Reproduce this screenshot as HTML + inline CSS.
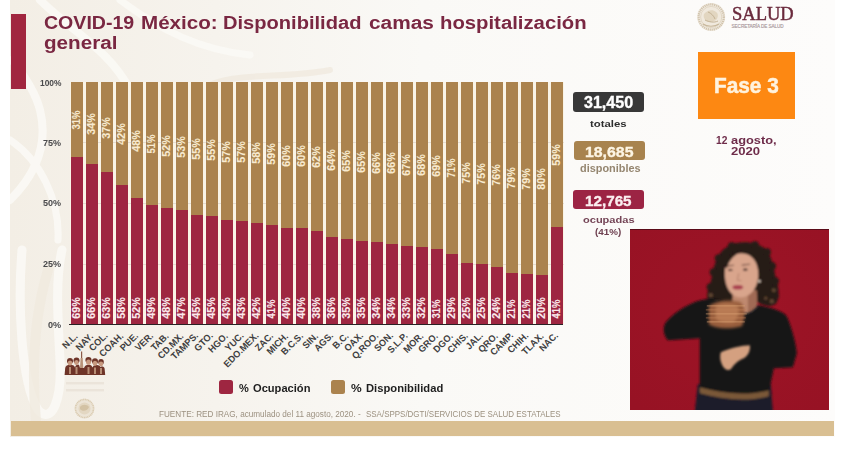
<!DOCTYPE html>
<html><head><meta charset="utf-8"><style>
html,body{margin:0;padding:0;}
body{width:842px;height:457px;position:relative;overflow:hidden;background:#ffffff;font-family:"Liberation Sans",sans-serif;}
</style></head><body>
<svg width="842" height="457" viewBox="0 0 842 457" style="position:absolute;left:0;top:0">
<defs>
<linearGradient id="bgg" x1="0" y1="0" x2="1" y2="0">
<stop offset="0" stop-color="#f3eee5"/>
<stop offset="0.25" stop-color="#f6f3ed"/>
<stop offset="0.5" stop-color="#faf9f6"/>
<stop offset="1" stop-color="#fdfcfb"/>
</linearGradient>
<clipPath id="slide"><rect x="10" y="0" width="825" height="421"/></clipPath>
</defs>
<rect x="0" y="0" width="842" height="457" fill="#ffffff"/>
<rect x="10" y="0" width="825" height="437" fill="url(#bgg)"/>
<g fill="none" stroke="#fbfaf6" stroke-linecap="round" opacity="0.9" clip-path="url(#slide)">
<path d="M22,250 C18,300 20,380 38,410 C52,425 62,400 60,360 C58,320 55,280 62,250" stroke-width="9"/>
<path d="M10,200 C30,180 50,150 40,110 C35,90 20,70 12,60" stroke-width="8"/>
<path d="M40,0 C70,30 110,50 130,90 C140,110 150,130 170,140" stroke-width="8"/>
<path d="M120,0 C160,30 200,50 250,55" stroke-width="7"/>
<path d="M10,140 C40,160 60,200 58,240" stroke-width="7"/>
</g>
<g fill="none" stroke="#f0eadf" stroke-linecap="round" opacity="0.8" clip-path="url(#slide)">
<path d="M40,457 C32,400 30,330 48,270" stroke-width="10"/>
<path d="M200,90 C230,70 280,80 330,70" stroke-width="6"/>
</g>
</svg>

<div style="position:absolute;left:11.3px;top:14.4px;width:14.8px;height:74.9px;background:#a1263f;"></div>
<div style="position:absolute;left:43.60px;top:13.52px;font-family:'Liberation Sans', sans-serif;font-size:18.75px;line-height:18.75px;font-weight:bold;color:#7a2742;white-space:nowrap;transform-origin:0 0;transform:scaleX(1.0431);">COVID-19</div>
<div style="position:absolute;left:141.00px;top:13.52px;font-family:'Liberation Sans', sans-serif;font-size:18.75px;line-height:18.75px;font-weight:bold;color:#7a2742;white-space:nowrap;transform-origin:0 0;transform:scaleX(1.0988);">México:</div>
<div style="position:absolute;left:223.40px;top:13.52px;font-family:'Liberation Sans', sans-serif;font-size:18.75px;line-height:18.75px;font-weight:bold;color:#7a2742;white-space:nowrap;transform-origin:0 0;transform:scaleX(1.0715);">Disponibilidad</div>
<div style="position:absolute;left:369.00px;top:13.52px;font-family:'Liberation Sans', sans-serif;font-size:18.75px;line-height:18.75px;font-weight:bold;color:#7a2742;white-space:nowrap;transform-origin:0 0;transform:scaleX(1.1115);">camas</div>
<div style="position:absolute;left:440.30px;top:13.52px;font-family:'Liberation Sans', sans-serif;font-size:18.75px;line-height:18.75px;font-weight:bold;color:#7a2742;white-space:nowrap;transform-origin:0 0;transform:scaleX(1.0825);">hospitalización</div>
<div style="position:absolute;left:43.70px;top:34.42px;font-family:'Liberation Sans', sans-serif;font-size:18.75px;line-height:18.75px;font-weight:bold;color:#7a2742;white-space:nowrap;transform-origin:0 0;transform:scaleX(1.1006);">general</div>
<div style="position:absolute;left:39.50px;top:78.79px;font-family:'Liberation Sans', sans-serif;font-size:8.87px;line-height:8.87px;font-weight:bold;color:#4a4a4c;white-space:nowrap;transform-origin:0 0;transform:scaleX(0.9480);">100%</div>
<div style="position:absolute;left:42.90px;top:138.99px;font-family:'Liberation Sans', sans-serif;font-size:8.87px;line-height:8.87px;font-weight:bold;color:#4a4a4c;white-space:nowrap;transform-origin:0 0;transform:scaleX(1.0202);">75%</div>
<div style="position:absolute;left:42.90px;top:199.49px;font-family:'Liberation Sans', sans-serif;font-size:8.87px;line-height:8.87px;font-weight:bold;color:#4a4a4c;white-space:nowrap;transform-origin:0 0;transform:scaleX(1.0202);">50%</div>
<div style="position:absolute;left:42.90px;top:259.99px;font-family:'Liberation Sans', sans-serif;font-size:8.87px;line-height:8.87px;font-weight:bold;color:#4a4a4c;white-space:nowrap;transform-origin:0 0;transform:scaleX(1.0202);">25%</div>
<div style="position:absolute;left:47.80px;top:320.99px;font-family:'Liberation Sans', sans-serif;font-size:8.87px;line-height:8.87px;font-weight:bold;color:#4a4a4c;white-space:nowrap;transform-origin:0 0;transform:scaleX(1.0303);">0%</div>
<div style="position:absolute;left:70.00px;top:81.8px;width:493.50px;height:242.40px;background:#faf4e6;"></div>
<div style="position:absolute;left:70.50px;top:142.40px;width:493px;height:0.8px;background:#e6ddd0;"></div>
<div style="position:absolute;left:70.50px;top:203.00px;width:493px;height:0.8px;background:#e6ddd0;"></div>
<div style="position:absolute;left:70.50px;top:263.60px;width:493px;height:0.8px;background:#e6ddd0;"></div>
<div style="position:absolute;left:70.50px;top:81.8px;width:12.4px;height:75.40px;background:#ab834e;"></div>
<div style="position:absolute;left:70.50px;top:157.20px;width:12.4px;height:167.00px;background:#9e2641;"></div>
<div style="position:absolute;left:67.06px;top:303.11px;width:20.07px;font-family:'Liberation Sans', sans-serif;font-size:10.03px;line-height:10.03px;font-weight:bold;color:#fbe9ec;white-space:nowrap;transform-origin:10.04px 5.04px;transform:rotate(-90deg) scaleX(1.0711);-webkit-text-stroke:0.12px #fbe9ec;">69%</div>
<div style="position:absolute;left:67.06px;top:115.26px;width:20.07px;font-family:'Liberation Sans', sans-serif;font-size:10.03px;line-height:10.03px;font-weight:bold;color:#f8ead0;white-space:nowrap;transform-origin:10.04px 5.04px;transform:rotate(-90deg) scaleX(0.9416);-webkit-text-stroke:0.12px #f8ead0;">31%</div>
<div style="position:absolute;left:85.50px;top:81.8px;width:12.4px;height:82.00px;background:#ab834e;"></div>
<div style="position:absolute;left:85.50px;top:163.80px;width:12.4px;height:160.40px;background:#9e2641;"></div>
<div style="position:absolute;left:82.07px;top:303.11px;width:20.07px;font-family:'Liberation Sans', sans-serif;font-size:10.03px;line-height:10.03px;font-weight:bold;color:#fbe9ec;white-space:nowrap;transform-origin:10.04px 5.04px;transform:rotate(-90deg) scaleX(1.0711);-webkit-text-stroke:0.12px #fbe9ec;">66%</div>
<div style="position:absolute;left:82.07px;top:118.56px;width:20.07px;font-family:'Liberation Sans', sans-serif;font-size:10.03px;line-height:10.03px;font-weight:bold;color:#f8ead0;white-space:nowrap;transform-origin:10.04px 5.04px;transform:rotate(-90deg) scaleX(1.0711);-webkit-text-stroke:0.12px #f8ead0;">34%</div>
<div style="position:absolute;left:100.51px;top:81.8px;width:12.4px;height:90.00px;background:#ab834e;"></div>
<div style="position:absolute;left:100.51px;top:171.80px;width:12.4px;height:152.40px;background:#9e2641;"></div>
<div style="position:absolute;left:97.07px;top:303.11px;width:20.07px;font-family:'Liberation Sans', sans-serif;font-size:10.03px;line-height:10.03px;font-weight:bold;color:#fbe9ec;white-space:nowrap;transform-origin:10.04px 5.04px;transform:rotate(-90deg) scaleX(1.0711);-webkit-text-stroke:0.12px #fbe9ec;">63%</div>
<div style="position:absolute;left:97.07px;top:122.56px;width:20.07px;font-family:'Liberation Sans', sans-serif;font-size:10.03px;line-height:10.03px;font-weight:bold;color:#f8ead0;white-space:nowrap;transform-origin:10.04px 5.04px;transform:rotate(-90deg) scaleX(1.0711);-webkit-text-stroke:0.12px #f8ead0;">37%</div>
<div style="position:absolute;left:115.51px;top:81.8px;width:12.4px;height:103.00px;background:#ab834e;"></div>
<div style="position:absolute;left:115.51px;top:184.80px;width:12.4px;height:139.40px;background:#9e2641;"></div>
<div style="position:absolute;left:112.07px;top:303.11px;width:20.07px;font-family:'Liberation Sans', sans-serif;font-size:10.03px;line-height:10.03px;font-weight:bold;color:#fbe9ec;white-space:nowrap;transform-origin:10.04px 5.04px;transform:rotate(-90deg) scaleX(1.0711);-webkit-text-stroke:0.12px #fbe9ec;">58%</div>
<div style="position:absolute;left:112.07px;top:129.06px;width:20.07px;font-family:'Liberation Sans', sans-serif;font-size:10.03px;line-height:10.03px;font-weight:bold;color:#f8ead0;white-space:nowrap;transform-origin:10.04px 5.04px;transform:rotate(-90deg) scaleX(1.0711);-webkit-text-stroke:0.12px #f8ead0;">42%</div>
<div style="position:absolute;left:130.51px;top:81.8px;width:12.4px;height:116.20px;background:#ab834e;"></div>
<div style="position:absolute;left:130.51px;top:198.00px;width:12.4px;height:126.20px;background:#9e2641;"></div>
<div style="position:absolute;left:127.08px;top:303.11px;width:20.07px;font-family:'Liberation Sans', sans-serif;font-size:10.03px;line-height:10.03px;font-weight:bold;color:#fbe9ec;white-space:nowrap;transform-origin:10.04px 5.04px;transform:rotate(-90deg) scaleX(1.0711);-webkit-text-stroke:0.12px #fbe9ec;">52%</div>
<div style="position:absolute;left:127.08px;top:135.66px;width:20.07px;font-family:'Liberation Sans', sans-serif;font-size:10.03px;line-height:10.03px;font-weight:bold;color:#f8ead0;white-space:nowrap;transform-origin:10.04px 5.04px;transform:rotate(-90deg) scaleX(1.0711);-webkit-text-stroke:0.12px #f8ead0;">48%</div>
<div style="position:absolute;left:145.51px;top:81.8px;width:12.4px;height:123.00px;background:#ab834e;"></div>
<div style="position:absolute;left:145.51px;top:204.80px;width:12.4px;height:119.40px;background:#9e2641;"></div>
<div style="position:absolute;left:142.08px;top:303.11px;width:20.07px;font-family:'Liberation Sans', sans-serif;font-size:10.03px;line-height:10.03px;font-weight:bold;color:#fbe9ec;white-space:nowrap;transform-origin:10.04px 5.04px;transform:rotate(-90deg) scaleX(1.0711);-webkit-text-stroke:0.12px #fbe9ec;">49%</div>
<div style="position:absolute;left:142.08px;top:139.06px;width:20.07px;font-family:'Liberation Sans', sans-serif;font-size:10.03px;line-height:10.03px;font-weight:bold;color:#f8ead0;white-space:nowrap;transform-origin:10.04px 5.04px;transform:rotate(-90deg) scaleX(0.9416);-webkit-text-stroke:0.12px #f8ead0;">51%</div>
<div style="position:absolute;left:160.52px;top:81.8px;width:12.4px;height:126.20px;background:#ab834e;"></div>
<div style="position:absolute;left:160.52px;top:208.00px;width:12.4px;height:116.20px;background:#9e2641;"></div>
<div style="position:absolute;left:157.08px;top:303.11px;width:20.07px;font-family:'Liberation Sans', sans-serif;font-size:10.03px;line-height:10.03px;font-weight:bold;color:#fbe9ec;white-space:nowrap;transform-origin:10.04px 5.04px;transform:rotate(-90deg) scaleX(1.0711);-webkit-text-stroke:0.12px #fbe9ec;">48%</div>
<div style="position:absolute;left:157.08px;top:140.66px;width:20.07px;font-family:'Liberation Sans', sans-serif;font-size:10.03px;line-height:10.03px;font-weight:bold;color:#f8ead0;white-space:nowrap;transform-origin:10.04px 5.04px;transform:rotate(-90deg) scaleX(1.0711);-webkit-text-stroke:0.12px #f8ead0;">52%</div>
<div style="position:absolute;left:175.52px;top:81.8px;width:12.4px;height:127.90px;background:#ab834e;"></div>
<div style="position:absolute;left:175.52px;top:209.70px;width:12.4px;height:114.50px;background:#9e2641;"></div>
<div style="position:absolute;left:172.08px;top:303.11px;width:20.07px;font-family:'Liberation Sans', sans-serif;font-size:10.03px;line-height:10.03px;font-weight:bold;color:#fbe9ec;white-space:nowrap;transform-origin:10.04px 5.04px;transform:rotate(-90deg) scaleX(1.0711);-webkit-text-stroke:0.12px #fbe9ec;">47%</div>
<div style="position:absolute;left:172.08px;top:141.51px;width:20.07px;font-family:'Liberation Sans', sans-serif;font-size:10.03px;line-height:10.03px;font-weight:bold;color:#f8ead0;white-space:nowrap;transform-origin:10.04px 5.04px;transform:rotate(-90deg) scaleX(1.0711);-webkit-text-stroke:0.12px #f8ead0;">53%</div>
<div style="position:absolute;left:190.52px;top:81.8px;width:12.4px;height:133.50px;background:#ab834e;"></div>
<div style="position:absolute;left:190.52px;top:215.30px;width:12.4px;height:108.90px;background:#9e2641;"></div>
<div style="position:absolute;left:187.09px;top:303.11px;width:20.07px;font-family:'Liberation Sans', sans-serif;font-size:10.03px;line-height:10.03px;font-weight:bold;color:#fbe9ec;white-space:nowrap;transform-origin:10.04px 5.04px;transform:rotate(-90deg) scaleX(1.0711);-webkit-text-stroke:0.12px #fbe9ec;">45%</div>
<div style="position:absolute;left:187.09px;top:144.31px;width:20.07px;font-family:'Liberation Sans', sans-serif;font-size:10.03px;line-height:10.03px;font-weight:bold;color:#f8ead0;white-space:nowrap;transform-origin:10.04px 5.04px;transform:rotate(-90deg) scaleX(1.0711);-webkit-text-stroke:0.12px #f8ead0;">55%</div>
<div style="position:absolute;left:205.53px;top:81.8px;width:12.4px;height:133.90px;background:#ab834e;"></div>
<div style="position:absolute;left:205.53px;top:215.70px;width:12.4px;height:108.50px;background:#9e2641;"></div>
<div style="position:absolute;left:202.09px;top:303.11px;width:20.07px;font-family:'Liberation Sans', sans-serif;font-size:10.03px;line-height:10.03px;font-weight:bold;color:#fbe9ec;white-space:nowrap;transform-origin:10.04px 5.04px;transform:rotate(-90deg) scaleX(1.0711);-webkit-text-stroke:0.12px #fbe9ec;">45%</div>
<div style="position:absolute;left:202.09px;top:144.51px;width:20.07px;font-family:'Liberation Sans', sans-serif;font-size:10.03px;line-height:10.03px;font-weight:bold;color:#f8ead0;white-space:nowrap;transform-origin:10.04px 5.04px;transform:rotate(-90deg) scaleX(1.0711);-webkit-text-stroke:0.12px #f8ead0;">55%</div>
<div style="position:absolute;left:220.53px;top:81.8px;width:12.4px;height:138.00px;background:#ab834e;"></div>
<div style="position:absolute;left:220.53px;top:219.80px;width:12.4px;height:104.40px;background:#9e2641;"></div>
<div style="position:absolute;left:217.09px;top:303.11px;width:20.07px;font-family:'Liberation Sans', sans-serif;font-size:10.03px;line-height:10.03px;font-weight:bold;color:#fbe9ec;white-space:nowrap;transform-origin:10.04px 5.04px;transform:rotate(-90deg) scaleX(1.0711);-webkit-text-stroke:0.12px #fbe9ec;">43%</div>
<div style="position:absolute;left:217.09px;top:146.56px;width:20.07px;font-family:'Liberation Sans', sans-serif;font-size:10.03px;line-height:10.03px;font-weight:bold;color:#f8ead0;white-space:nowrap;transform-origin:10.04px 5.04px;transform:rotate(-90deg) scaleX(1.0711);-webkit-text-stroke:0.12px #f8ead0;">57%</div>
<div style="position:absolute;left:235.53px;top:81.8px;width:12.4px;height:139.00px;background:#ab834e;"></div>
<div style="position:absolute;left:235.53px;top:220.80px;width:12.4px;height:103.40px;background:#9e2641;"></div>
<div style="position:absolute;left:232.10px;top:303.11px;width:20.07px;font-family:'Liberation Sans', sans-serif;font-size:10.03px;line-height:10.03px;font-weight:bold;color:#fbe9ec;white-space:nowrap;transform-origin:10.04px 5.04px;transform:rotate(-90deg) scaleX(1.0711);-webkit-text-stroke:0.12px #fbe9ec;">43%</div>
<div style="position:absolute;left:232.10px;top:147.06px;width:20.07px;font-family:'Liberation Sans', sans-serif;font-size:10.03px;line-height:10.03px;font-weight:bold;color:#f8ead0;white-space:nowrap;transform-origin:10.04px 5.04px;transform:rotate(-90deg) scaleX(1.0711);-webkit-text-stroke:0.12px #f8ead0;">57%</div>
<div style="position:absolute;left:250.54px;top:81.8px;width:12.4px;height:141.20px;background:#ab834e;"></div>
<div style="position:absolute;left:250.54px;top:223.00px;width:12.4px;height:101.20px;background:#9e2641;"></div>
<div style="position:absolute;left:247.10px;top:303.11px;width:20.07px;font-family:'Liberation Sans', sans-serif;font-size:10.03px;line-height:10.03px;font-weight:bold;color:#fbe9ec;white-space:nowrap;transform-origin:10.04px 5.04px;transform:rotate(-90deg) scaleX(1.0711);-webkit-text-stroke:0.12px #fbe9ec;">42%</div>
<div style="position:absolute;left:247.10px;top:148.16px;width:20.07px;font-family:'Liberation Sans', sans-serif;font-size:10.03px;line-height:10.03px;font-weight:bold;color:#f8ead0;white-space:nowrap;transform-origin:10.04px 5.04px;transform:rotate(-90deg) scaleX(1.0711);-webkit-text-stroke:0.12px #f8ead0;">58%</div>
<div style="position:absolute;left:265.54px;top:81.8px;width:12.4px;height:143.00px;background:#ab834e;"></div>
<div style="position:absolute;left:265.54px;top:224.80px;width:12.4px;height:99.40px;background:#9e2641;"></div>
<div style="position:absolute;left:262.10px;top:304.41px;width:20.07px;font-family:'Liberation Sans', sans-serif;font-size:10.03px;line-height:10.03px;font-weight:bold;color:#fbe9ec;white-space:nowrap;transform-origin:10.04px 5.04px;transform:rotate(-90deg) scaleX(0.9416);-webkit-text-stroke:0.12px #fbe9ec;">41%</div>
<div style="position:absolute;left:262.10px;top:149.06px;width:20.07px;font-family:'Liberation Sans', sans-serif;font-size:10.03px;line-height:10.03px;font-weight:bold;color:#f8ead0;white-space:nowrap;transform-origin:10.04px 5.04px;transform:rotate(-90deg) scaleX(1.0711);-webkit-text-stroke:0.12px #f8ead0;">59%</div>
<div style="position:absolute;left:280.54px;top:81.8px;width:12.4px;height:146.10px;background:#ab834e;"></div>
<div style="position:absolute;left:280.54px;top:227.90px;width:12.4px;height:96.30px;background:#9e2641;"></div>
<div style="position:absolute;left:277.11px;top:303.11px;width:20.07px;font-family:'Liberation Sans', sans-serif;font-size:10.03px;line-height:10.03px;font-weight:bold;color:#fbe9ec;white-space:nowrap;transform-origin:10.04px 5.04px;transform:rotate(-90deg) scaleX(1.0711);-webkit-text-stroke:0.12px #fbe9ec;">40%</div>
<div style="position:absolute;left:277.11px;top:150.61px;width:20.07px;font-family:'Liberation Sans', sans-serif;font-size:10.03px;line-height:10.03px;font-weight:bold;color:#f8ead0;white-space:nowrap;transform-origin:10.04px 5.04px;transform:rotate(-90deg) scaleX(1.0711);-webkit-text-stroke:0.12px #f8ead0;">60%</div>
<div style="position:absolute;left:295.55px;top:81.8px;width:12.4px;height:146.10px;background:#ab834e;"></div>
<div style="position:absolute;left:295.55px;top:227.90px;width:12.4px;height:96.30px;background:#9e2641;"></div>
<div style="position:absolute;left:292.11px;top:303.11px;width:20.07px;font-family:'Liberation Sans', sans-serif;font-size:10.03px;line-height:10.03px;font-weight:bold;color:#fbe9ec;white-space:nowrap;transform-origin:10.04px 5.04px;transform:rotate(-90deg) scaleX(1.0711);-webkit-text-stroke:0.12px #fbe9ec;">40%</div>
<div style="position:absolute;left:292.11px;top:150.61px;width:20.07px;font-family:'Liberation Sans', sans-serif;font-size:10.03px;line-height:10.03px;font-weight:bold;color:#f8ead0;white-space:nowrap;transform-origin:10.04px 5.04px;transform:rotate(-90deg) scaleX(1.0711);-webkit-text-stroke:0.12px #f8ead0;">60%</div>
<div style="position:absolute;left:310.55px;top:81.8px;width:12.4px;height:149.50px;background:#ab834e;"></div>
<div style="position:absolute;left:310.55px;top:231.30px;width:12.4px;height:92.90px;background:#9e2641;"></div>
<div style="position:absolute;left:307.11px;top:303.11px;width:20.07px;font-family:'Liberation Sans', sans-serif;font-size:10.03px;line-height:10.03px;font-weight:bold;color:#fbe9ec;white-space:nowrap;transform-origin:10.04px 5.04px;transform:rotate(-90deg) scaleX(1.0711);-webkit-text-stroke:0.12px #fbe9ec;">38%</div>
<div style="position:absolute;left:307.11px;top:152.31px;width:20.07px;font-family:'Liberation Sans', sans-serif;font-size:10.03px;line-height:10.03px;font-weight:bold;color:#f8ead0;white-space:nowrap;transform-origin:10.04px 5.04px;transform:rotate(-90deg) scaleX(1.0711);-webkit-text-stroke:0.12px #f8ead0;">62%</div>
<div style="position:absolute;left:325.55px;top:81.8px;width:12.4px;height:155.20px;background:#ab834e;"></div>
<div style="position:absolute;left:325.55px;top:237.00px;width:12.4px;height:87.20px;background:#9e2641;"></div>
<div style="position:absolute;left:322.11px;top:303.11px;width:20.07px;font-family:'Liberation Sans', sans-serif;font-size:10.03px;line-height:10.03px;font-weight:bold;color:#fbe9ec;white-space:nowrap;transform-origin:10.04px 5.04px;transform:rotate(-90deg) scaleX(1.0711);-webkit-text-stroke:0.12px #fbe9ec;">36%</div>
<div style="position:absolute;left:322.11px;top:155.16px;width:20.07px;font-family:'Liberation Sans', sans-serif;font-size:10.03px;line-height:10.03px;font-weight:bold;color:#f8ead0;white-space:nowrap;transform-origin:10.04px 5.04px;transform:rotate(-90deg) scaleX(1.0711);-webkit-text-stroke:0.12px #f8ead0;">64%</div>
<div style="position:absolute;left:340.55px;top:81.8px;width:12.4px;height:157.30px;background:#ab834e;"></div>
<div style="position:absolute;left:340.55px;top:239.10px;width:12.4px;height:85.10px;background:#9e2641;"></div>
<div style="position:absolute;left:337.12px;top:303.11px;width:20.07px;font-family:'Liberation Sans', sans-serif;font-size:10.03px;line-height:10.03px;font-weight:bold;color:#fbe9ec;white-space:nowrap;transform-origin:10.04px 5.04px;transform:rotate(-90deg) scaleX(1.0711);-webkit-text-stroke:0.12px #fbe9ec;">35%</div>
<div style="position:absolute;left:337.12px;top:156.21px;width:20.07px;font-family:'Liberation Sans', sans-serif;font-size:10.03px;line-height:10.03px;font-weight:bold;color:#f8ead0;white-space:nowrap;transform-origin:10.04px 5.04px;transform:rotate(-90deg) scaleX(1.0711);-webkit-text-stroke:0.12px #f8ead0;">65%</div>
<div style="position:absolute;left:355.56px;top:81.8px;width:12.4px;height:158.90px;background:#ab834e;"></div>
<div style="position:absolute;left:355.56px;top:240.70px;width:12.4px;height:83.50px;background:#9e2641;"></div>
<div style="position:absolute;left:352.12px;top:303.11px;width:20.07px;font-family:'Liberation Sans', sans-serif;font-size:10.03px;line-height:10.03px;font-weight:bold;color:#fbe9ec;white-space:nowrap;transform-origin:10.04px 5.04px;transform:rotate(-90deg) scaleX(1.0711);-webkit-text-stroke:0.12px #fbe9ec;">35%</div>
<div style="position:absolute;left:352.12px;top:157.01px;width:20.07px;font-family:'Liberation Sans', sans-serif;font-size:10.03px;line-height:10.03px;font-weight:bold;color:#f8ead0;white-space:nowrap;transform-origin:10.04px 5.04px;transform:rotate(-90deg) scaleX(1.0711);-webkit-text-stroke:0.12px #f8ead0;">65%</div>
<div style="position:absolute;left:370.56px;top:81.8px;width:12.4px;height:160.40px;background:#ab834e;"></div>
<div style="position:absolute;left:370.56px;top:242.20px;width:12.4px;height:82.00px;background:#9e2641;"></div>
<div style="position:absolute;left:367.12px;top:303.11px;width:20.07px;font-family:'Liberation Sans', sans-serif;font-size:10.03px;line-height:10.03px;font-weight:bold;color:#fbe9ec;white-space:nowrap;transform-origin:10.04px 5.04px;transform:rotate(-90deg) scaleX(1.0711);-webkit-text-stroke:0.12px #fbe9ec;">34%</div>
<div style="position:absolute;left:367.12px;top:157.76px;width:20.07px;font-family:'Liberation Sans', sans-serif;font-size:10.03px;line-height:10.03px;font-weight:bold;color:#f8ead0;white-space:nowrap;transform-origin:10.04px 5.04px;transform:rotate(-90deg) scaleX(1.0711);-webkit-text-stroke:0.12px #f8ead0;">66%</div>
<div style="position:absolute;left:385.56px;top:81.8px;width:12.4px;height:161.80px;background:#ab834e;"></div>
<div style="position:absolute;left:385.56px;top:243.60px;width:12.4px;height:80.60px;background:#9e2641;"></div>
<div style="position:absolute;left:382.13px;top:303.11px;width:20.07px;font-family:'Liberation Sans', sans-serif;font-size:10.03px;line-height:10.03px;font-weight:bold;color:#fbe9ec;white-space:nowrap;transform-origin:10.04px 5.04px;transform:rotate(-90deg) scaleX(1.0711);-webkit-text-stroke:0.12px #fbe9ec;">34%</div>
<div style="position:absolute;left:382.13px;top:158.46px;width:20.07px;font-family:'Liberation Sans', sans-serif;font-size:10.03px;line-height:10.03px;font-weight:bold;color:#f8ead0;white-space:nowrap;transform-origin:10.04px 5.04px;transform:rotate(-90deg) scaleX(1.0711);-webkit-text-stroke:0.12px #f8ead0;">66%</div>
<div style="position:absolute;left:400.57px;top:81.8px;width:12.4px;height:164.00px;background:#ab834e;"></div>
<div style="position:absolute;left:400.57px;top:245.80px;width:12.4px;height:78.40px;background:#9e2641;"></div>
<div style="position:absolute;left:397.13px;top:303.11px;width:20.07px;font-family:'Liberation Sans', sans-serif;font-size:10.03px;line-height:10.03px;font-weight:bold;color:#fbe9ec;white-space:nowrap;transform-origin:10.04px 5.04px;transform:rotate(-90deg) scaleX(1.0711);-webkit-text-stroke:0.12px #fbe9ec;">33%</div>
<div style="position:absolute;left:397.13px;top:159.56px;width:20.07px;font-family:'Liberation Sans', sans-serif;font-size:10.03px;line-height:10.03px;font-weight:bold;color:#f8ead0;white-space:nowrap;transform-origin:10.04px 5.04px;transform:rotate(-90deg) scaleX(1.0711);-webkit-text-stroke:0.12px #f8ead0;">67%</div>
<div style="position:absolute;left:415.57px;top:81.8px;width:12.4px;height:164.80px;background:#ab834e;"></div>
<div style="position:absolute;left:415.57px;top:246.60px;width:12.4px;height:77.60px;background:#9e2641;"></div>
<div style="position:absolute;left:412.13px;top:303.11px;width:20.07px;font-family:'Liberation Sans', sans-serif;font-size:10.03px;line-height:10.03px;font-weight:bold;color:#fbe9ec;white-space:nowrap;transform-origin:10.04px 5.04px;transform:rotate(-90deg) scaleX(1.0711);-webkit-text-stroke:0.12px #fbe9ec;">32%</div>
<div style="position:absolute;left:412.13px;top:159.96px;width:20.07px;font-family:'Liberation Sans', sans-serif;font-size:10.03px;line-height:10.03px;font-weight:bold;color:#f8ead0;white-space:nowrap;transform-origin:10.04px 5.04px;transform:rotate(-90deg) scaleX(1.0711);-webkit-text-stroke:0.12px #f8ead0;">68%</div>
<div style="position:absolute;left:430.57px;top:81.8px;width:12.4px;height:167.00px;background:#ab834e;"></div>
<div style="position:absolute;left:430.57px;top:248.80px;width:12.4px;height:75.40px;background:#9e2641;"></div>
<div style="position:absolute;left:427.14px;top:304.41px;width:20.07px;font-family:'Liberation Sans', sans-serif;font-size:10.03px;line-height:10.03px;font-weight:bold;color:#fbe9ec;white-space:nowrap;transform-origin:10.04px 5.04px;transform:rotate(-90deg) scaleX(0.9416);-webkit-text-stroke:0.12px #fbe9ec;">31%</div>
<div style="position:absolute;left:427.14px;top:161.06px;width:20.07px;font-family:'Liberation Sans', sans-serif;font-size:10.03px;line-height:10.03px;font-weight:bold;color:#f8ead0;white-space:nowrap;transform-origin:10.04px 5.04px;transform:rotate(-90deg) scaleX(1.0711);-webkit-text-stroke:0.12px #f8ead0;">69%</div>
<div style="position:absolute;left:445.57px;top:81.8px;width:12.4px;height:171.80px;background:#ab834e;"></div>
<div style="position:absolute;left:445.57px;top:253.60px;width:12.4px;height:70.60px;background:#9e2641;"></div>
<div style="position:absolute;left:442.14px;top:303.11px;width:20.07px;font-family:'Liberation Sans', sans-serif;font-size:10.03px;line-height:10.03px;font-weight:bold;color:#fbe9ec;white-space:nowrap;transform-origin:10.04px 5.04px;transform:rotate(-90deg) scaleX(1.0711);-webkit-text-stroke:0.12px #fbe9ec;">29%</div>
<div style="position:absolute;left:442.14px;top:163.46px;width:20.07px;font-family:'Liberation Sans', sans-serif;font-size:10.03px;line-height:10.03px;font-weight:bold;color:#f8ead0;white-space:nowrap;transform-origin:10.04px 5.04px;transform:rotate(-90deg) scaleX(0.9416);-webkit-text-stroke:0.12px #f8ead0;">71%</div>
<div style="position:absolute;left:460.58px;top:81.8px;width:12.4px;height:181.60px;background:#ab834e;"></div>
<div style="position:absolute;left:460.58px;top:263.40px;width:12.4px;height:60.80px;background:#9e2641;"></div>
<div style="position:absolute;left:457.14px;top:303.11px;width:20.07px;font-family:'Liberation Sans', sans-serif;font-size:10.03px;line-height:10.03px;font-weight:bold;color:#fbe9ec;white-space:nowrap;transform-origin:10.04px 5.04px;transform:rotate(-90deg) scaleX(1.0711);-webkit-text-stroke:0.12px #fbe9ec;">25%</div>
<div style="position:absolute;left:457.14px;top:168.36px;width:20.07px;font-family:'Liberation Sans', sans-serif;font-size:10.03px;line-height:10.03px;font-weight:bold;color:#f8ead0;white-space:nowrap;transform-origin:10.04px 5.04px;transform:rotate(-90deg) scaleX(1.0711);-webkit-text-stroke:0.12px #f8ead0;">75%</div>
<div style="position:absolute;left:475.58px;top:81.8px;width:12.4px;height:182.30px;background:#ab834e;"></div>
<div style="position:absolute;left:475.58px;top:264.10px;width:12.4px;height:60.10px;background:#9e2641;"></div>
<div style="position:absolute;left:472.14px;top:303.11px;width:20.07px;font-family:'Liberation Sans', sans-serif;font-size:10.03px;line-height:10.03px;font-weight:bold;color:#fbe9ec;white-space:nowrap;transform-origin:10.04px 5.04px;transform:rotate(-90deg) scaleX(1.0711);-webkit-text-stroke:0.12px #fbe9ec;">25%</div>
<div style="position:absolute;left:472.14px;top:168.71px;width:20.07px;font-family:'Liberation Sans', sans-serif;font-size:10.03px;line-height:10.03px;font-weight:bold;color:#f8ead0;white-space:nowrap;transform-origin:10.04px 5.04px;transform:rotate(-90deg) scaleX(1.0711);-webkit-text-stroke:0.12px #f8ead0;">75%</div>
<div style="position:absolute;left:490.58px;top:81.8px;width:12.4px;height:185.20px;background:#ab834e;"></div>
<div style="position:absolute;left:490.58px;top:267.00px;width:12.4px;height:57.20px;background:#9e2641;"></div>
<div style="position:absolute;left:487.15px;top:303.11px;width:20.07px;font-family:'Liberation Sans', sans-serif;font-size:10.03px;line-height:10.03px;font-weight:bold;color:#fbe9ec;white-space:nowrap;transform-origin:10.04px 5.04px;transform:rotate(-90deg) scaleX(1.0711);-webkit-text-stroke:0.12px #fbe9ec;">24%</div>
<div style="position:absolute;left:487.15px;top:170.16px;width:20.07px;font-family:'Liberation Sans', sans-serif;font-size:10.03px;line-height:10.03px;font-weight:bold;color:#f8ead0;white-space:nowrap;transform-origin:10.04px 5.04px;transform:rotate(-90deg) scaleX(1.0711);-webkit-text-stroke:0.12px #f8ead0;">76%</div>
<div style="position:absolute;left:505.59px;top:81.8px;width:12.4px;height:191.00px;background:#ab834e;"></div>
<div style="position:absolute;left:505.59px;top:272.80px;width:12.4px;height:51.40px;background:#9e2641;"></div>
<div style="position:absolute;left:502.15px;top:304.41px;width:20.07px;font-family:'Liberation Sans', sans-serif;font-size:10.03px;line-height:10.03px;font-weight:bold;color:#fbe9ec;white-space:nowrap;transform-origin:10.04px 5.04px;transform:rotate(-90deg) scaleX(0.9416);-webkit-text-stroke:0.12px #fbe9ec;">21%</div>
<div style="position:absolute;left:502.15px;top:173.06px;width:20.07px;font-family:'Liberation Sans', sans-serif;font-size:10.03px;line-height:10.03px;font-weight:bold;color:#f8ead0;white-space:nowrap;transform-origin:10.04px 5.04px;transform:rotate(-90deg) scaleX(1.0711);-webkit-text-stroke:0.12px #f8ead0;">79%</div>
<div style="position:absolute;left:520.59px;top:81.8px;width:12.4px;height:192.60px;background:#ab834e;"></div>
<div style="position:absolute;left:520.59px;top:274.40px;width:12.4px;height:49.80px;background:#9e2641;"></div>
<div style="position:absolute;left:517.15px;top:304.41px;width:20.07px;font-family:'Liberation Sans', sans-serif;font-size:10.03px;line-height:10.03px;font-weight:bold;color:#fbe9ec;white-space:nowrap;transform-origin:10.04px 5.04px;transform:rotate(-90deg) scaleX(0.9416);-webkit-text-stroke:0.12px #fbe9ec;">21%</div>
<div style="position:absolute;left:517.15px;top:173.86px;width:20.07px;font-family:'Liberation Sans', sans-serif;font-size:10.03px;line-height:10.03px;font-weight:bold;color:#f8ead0;white-space:nowrap;transform-origin:10.04px 5.04px;transform:rotate(-90deg) scaleX(1.0711);-webkit-text-stroke:0.12px #f8ead0;">79%</div>
<div style="position:absolute;left:535.59px;top:81.8px;width:12.4px;height:193.40px;background:#ab834e;"></div>
<div style="position:absolute;left:535.59px;top:275.20px;width:12.4px;height:49.00px;background:#9e2641;"></div>
<div style="position:absolute;left:532.16px;top:303.11px;width:20.07px;font-family:'Liberation Sans', sans-serif;font-size:10.03px;line-height:10.03px;font-weight:bold;color:#fbe9ec;white-space:nowrap;transform-origin:10.04px 5.04px;transform:rotate(-90deg) scaleX(1.0711);-webkit-text-stroke:0.12px #fbe9ec;">20%</div>
<div style="position:absolute;left:532.16px;top:174.26px;width:20.07px;font-family:'Liberation Sans', sans-serif;font-size:10.03px;line-height:10.03px;font-weight:bold;color:#f8ead0;white-space:nowrap;transform-origin:10.04px 5.04px;transform:rotate(-90deg) scaleX(1.0711);-webkit-text-stroke:0.12px #f8ead0;">80%</div>
<div style="position:absolute;left:550.60px;top:81.8px;width:12.4px;height:144.80px;background:#ab834e;"></div>
<div style="position:absolute;left:550.60px;top:226.60px;width:12.4px;height:97.60px;background:#9e2641;"></div>
<div style="position:absolute;left:547.16px;top:304.41px;width:20.07px;font-family:'Liberation Sans', sans-serif;font-size:10.03px;line-height:10.03px;font-weight:bold;color:#fbe9ec;white-space:nowrap;transform-origin:10.04px 5.04px;transform:rotate(-90deg) scaleX(0.9416);-webkit-text-stroke:0.12px #fbe9ec;">41%</div>
<div style="position:absolute;left:547.16px;top:149.96px;width:20.07px;font-family:'Liberation Sans', sans-serif;font-size:10.03px;line-height:10.03px;font-weight:bold;color:#f8ead0;white-space:nowrap;transform-origin:10.04px 5.04px;transform:rotate(-90deg) scaleX(1.0711);-webkit-text-stroke:0.12px #f8ead0;">59%</div>
<div style="position:absolute;left:69px;top:323.8px;width:494px;height:1.1px;background:#2a2224;"></div>
<div style="position:absolute;left:61.46px;top:335.57px;width:17.84px;font-family:'Liberation Sans', sans-serif;font-size:9.45px;line-height:9.45px;font-weight:bold;color:#3e3e40;white-space:nowrap;transform-origin:8.92px 4.75px;transform:rotate(-45deg) scaleX(0.9700);">N.L.</div>
<div style="position:absolute;left:74.09px;top:336.53px;width:20.66px;font-family:'Liberation Sans', sans-serif;font-size:9.45px;line-height:9.45px;font-weight:bold;color:#3e3e40;white-space:nowrap;transform-origin:10.33px 4.75px;transform:rotate(-45deg) scaleX(0.9700);">NAY.</div>
<div style="position:absolute;left:87.48px;top:337.19px;width:22.57px;font-family:'Liberation Sans', sans-serif;font-size:9.45px;line-height:9.45px;font-weight:bold;color:#3e3e40;white-space:nowrap;transform-origin:11.28px 4.75px;transform:rotate(-45deg) scaleX(0.9700);">COL.</div>
<div style="position:absolute;left:95.85px;top:339.89px;width:30.44px;font-family:'Liberation Sans', sans-serif;font-size:9.45px;line-height:9.45px;font-weight:bold;color:#3e3e40;white-space:nowrap;transform-origin:15.22px 4.75px;transform:rotate(-45deg) scaleX(0.9700);">COAH.</div>
<div style="position:absolute;left:117.92px;top:337.01px;width:22.05px;font-family:'Liberation Sans', sans-serif;font-size:9.45px;line-height:9.45px;font-weight:bold;color:#3e3e40;white-space:nowrap;transform-origin:11.03px 4.75px;transform:rotate(-45deg) scaleX(0.9700);">PUE.</div>
<div style="position:absolute;left:132.93px;top:337.01px;width:22.05px;font-family:'Liberation Sans', sans-serif;font-size:9.45px;line-height:9.45px;font-weight:bold;color:#3e3e40;white-space:nowrap;transform-origin:11.03px 4.75px;transform:rotate(-45deg) scaleX(0.9700);">VER.</div>
<div style="position:absolute;left:148.53px;top:336.77px;width:21.34px;font-family:'Liberation Sans', sans-serif;font-size:9.45px;line-height:9.45px;font-weight:bold;color:#3e3e40;white-space:nowrap;transform-origin:10.67px 4.75px;transform:rotate(-45deg) scaleX(0.9700);">TAB.</div>
<div style="position:absolute;left:153.65px;top:340.79px;width:33.07px;font-family:'Liberation Sans', sans-serif;font-size:9.45px;line-height:9.45px;font-weight:bold;color:#3e3e40;white-space:nowrap;transform-origin:16.53px 4.75px;transform:rotate(-45deg) scaleX(0.9700);">CD.MX.</div>
<div style="position:absolute;left:167.03px;top:341.45px;width:34.99px;font-family:'Liberation Sans', sans-serif;font-size:9.45px;line-height:9.45px;font-weight:bold;color:#3e3e40;white-space:nowrap;transform-origin:17.50px 4.75px;transform:rotate(-45deg) scaleX(0.9700);">TAMPS.</div>
<div style="position:absolute;left:192.20px;top:337.31px;width:22.92px;font-family:'Liberation Sans', sans-serif;font-size:9.45px;line-height:9.45px;font-weight:bold;color:#3e3e40;white-space:nowrap;transform-origin:11.46px 4.75px;transform:rotate(-45deg) scaleX(0.9700);">GTO.</div>
<div style="position:absolute;left:206.18px;top:337.73px;width:24.15px;font-family:'Liberation Sans', sans-serif;font-size:9.45px;line-height:9.45px;font-weight:bold;color:#3e3e40;white-space:nowrap;transform-origin:12.07px 4.75px;transform:rotate(-45deg) scaleX(0.9700);">HGO.</div>
<div style="position:absolute;left:222.51px;top:337.19px;width:22.57px;font-family:'Liberation Sans', sans-serif;font-size:9.45px;line-height:9.45px;font-weight:bold;color:#3e3e40;white-space:nowrap;transform-origin:11.29px 4.75px;transform:rotate(-45deg) scaleX(0.9700);">YUC.</div>
<div style="position:absolute;left:217.60px;top:345.29px;width:46.20px;font-family:'Liberation Sans', sans-serif;font-size:9.45px;line-height:9.45px;font-weight:bold;color:#3e3e40;white-space:nowrap;transform-origin:23.10px 4.75px;transform:rotate(-45deg) scaleX(0.9700);">EDO.MEX.</div>
<div style="position:absolute;left:252.96px;top:337.01px;width:22.04px;font-family:'Liberation Sans', sans-serif;font-size:9.45px;line-height:9.45px;font-weight:bold;color:#3e3e40;white-space:nowrap;transform-origin:11.02px 4.75px;transform:rotate(-45deg) scaleX(0.9700);">ZAC.</div>
<div style="position:absolute;left:263.98px;top:338.63px;width:26.77px;font-family:'Liberation Sans', sans-serif;font-size:9.45px;line-height:9.45px;font-weight:bold;color:#3e3e40;white-space:nowrap;transform-origin:13.38px 4.75px;transform:rotate(-45deg) scaleX(0.9700);">MICH.</div>
<div style="position:absolute;left:278.09px;top:338.99px;width:27.82px;font-family:'Liberation Sans', sans-serif;font-size:9.45px;line-height:9.45px;font-weight:bold;color:#3e3e40;white-space:nowrap;transform-origin:13.91px 4.75px;transform:rotate(-45deg) scaleX(0.9700);">B.C.S.</div>
<div style="position:absolute;left:301.06px;top:335.75px;width:18.37px;font-family:'Liberation Sans', sans-serif;font-size:9.45px;line-height:9.45px;font-weight:bold;color:#3e3e40;white-space:nowrap;transform-origin:9.19px 4.75px;transform:rotate(-45deg) scaleX(0.9700);">SIN.</div>
<div style="position:absolute;left:312.08px;top:337.37px;width:23.10px;font-family:'Liberation Sans', sans-serif;font-size:9.45px;line-height:9.45px;font-weight:bold;color:#3e3e40;white-space:nowrap;transform-origin:11.55px 4.75px;transform:rotate(-45deg) scaleX(0.9700);">AGS.</div>
<div style="position:absolute;left:330.63px;top:335.93px;width:18.90px;font-family:'Liberation Sans', sans-serif;font-size:9.45px;line-height:9.45px;font-weight:bold;color:#3e3e40;white-space:nowrap;transform-origin:9.45px 4.75px;transform:rotate(-45deg) scaleX(0.9700);">B.C.</div>
<div style="position:absolute;left:342.09px;top:337.37px;width:23.10px;font-family:'Liberation Sans', sans-serif;font-size:9.45px;line-height:9.45px;font-weight:bold;color:#3e3e40;white-space:nowrap;transform-origin:11.55px 4.75px;transform:rotate(-45deg) scaleX(0.9700);">OAX.</div>
<div style="position:absolute;left:347.80px;top:341.15px;width:34.12px;font-family:'Liberation Sans', sans-serif;font-size:9.45px;line-height:9.45px;font-weight:bold;color:#3e3e40;white-space:nowrap;transform-origin:17.06px 4.75px;transform:rotate(-45deg) scaleX(0.9700);">Q.ROO.</div>
<div style="position:absolute;left:372.09px;top:337.37px;width:23.10px;font-family:'Liberation Sans', sans-serif;font-size:9.45px;line-height:9.45px;font-weight:bold;color:#3e3e40;white-space:nowrap;transform-origin:11.55px 4.75px;transform:rotate(-45deg) scaleX(0.9700);">SON.</div>
<div style="position:absolute;left:385.47px;top:338.03px;width:25.03px;font-family:'Liberation Sans', sans-serif;font-size:9.45px;line-height:9.45px;font-weight:bold;color:#3e3e40;white-space:nowrap;transform-origin:12.52px 4.75px;transform:rotate(-45deg) scaleX(0.9700);">S.L.P.</div>
<div style="position:absolute;left:400.78px;top:337.91px;width:24.67px;font-family:'Liberation Sans', sans-serif;font-size:9.45px;line-height:9.45px;font-weight:bold;color:#3e3e40;white-space:nowrap;transform-origin:12.33px 4.75px;transform:rotate(-45deg) scaleX(0.9700);">MOR.</div>
<div style="position:absolute;left:416.22px;top:337.73px;width:24.15px;font-family:'Liberation Sans', sans-serif;font-size:9.45px;line-height:9.45px;font-weight:bold;color:#3e3e40;white-space:nowrap;transform-origin:12.07px 4.75px;transform:rotate(-45deg) scaleX(0.9700);">GRO.</div>
<div style="position:absolute;left:431.22px;top:337.73px;width:24.15px;font-family:'Liberation Sans', sans-serif;font-size:9.45px;line-height:9.45px;font-weight:bold;color:#3e3e40;white-space:nowrap;transform-origin:12.07px 4.75px;transform:rotate(-45deg) scaleX(0.9700);">DGO.</div>
<div style="position:absolute;left:445.34px;top:338.09px;width:25.20px;font-family:'Liberation Sans', sans-serif;font-size:9.45px;line-height:9.45px;font-weight:bold;color:#3e3e40;white-space:nowrap;transform-origin:12.60px 4.75px;transform:rotate(-45deg) scaleX(0.9700);">CHIS.</div>
<div style="position:absolute;left:464.32px;top:336.47px;width:20.47px;font-family:'Liberation Sans', sans-serif;font-size:9.45px;line-height:9.45px;font-weight:bold;color:#3e3e40;white-space:nowrap;transform-origin:10.24px 4.75px;transform:rotate(-45deg) scaleX(0.9700);">JAL.</div>
<div style="position:absolute;left:476.23px;top:337.73px;width:24.15px;font-family:'Liberation Sans', sans-serif;font-size:9.45px;line-height:9.45px;font-weight:bold;color:#3e3e40;white-space:nowrap;transform-origin:12.07px 4.75px;transform:rotate(-45deg) scaleX(0.9700);">QRO.</div>
<div style="position:absolute;left:486.95px;top:339.47px;width:29.22px;font-family:'Liberation Sans', sans-serif;font-size:9.45px;line-height:9.45px;font-weight:bold;color:#3e3e40;white-space:nowrap;transform-origin:14.61px 4.75px;transform:rotate(-45deg) scaleX(0.9700);">CAMP.</div>
<div style="position:absolute;left:504.91px;top:338.27px;width:25.72px;font-family:'Liberation Sans', sans-serif;font-size:9.45px;line-height:9.45px;font-weight:bold;color:#3e3e40;white-space:nowrap;transform-origin:12.86px 4.75px;transform:rotate(-45deg) scaleX(0.9700);">CHIH.</div>
<div style="position:absolute;left:518.59px;top:338.81px;width:27.29px;font-family:'Liberation Sans', sans-serif;font-size:9.45px;line-height:9.45px;font-weight:bold;color:#3e3e40;white-space:nowrap;transform-origin:13.65px 4.75px;transform:rotate(-45deg) scaleX(0.9700);">TLAX.</div>
<div style="position:absolute;left:537.13px;top:337.37px;width:23.09px;font-family:'Liberation Sans', sans-serif;font-size:9.45px;line-height:9.45px;font-weight:bold;color:#3e3e40;white-space:nowrap;transform-origin:11.55px 4.75px;transform:rotate(-45deg) scaleX(0.9700);">NAC.</div>
<div style="position:absolute;left:218.8px;top:379.6px;width:14.2px;height:14.2px;border-radius:2.5px;background:#9e2641;"></div>
<div style="position:absolute;left:239.20px;top:382.60px;font-family:'Liberation Sans', sans-serif;font-size:11.34px;line-height:11.34px;font-weight:bold;color:#1e1e1e;white-space:nowrap;transform-origin:0 0;transform:scaleX(0.9723);">%</div>
<div style="position:absolute;left:252.90px;top:382.60px;font-family:'Liberation Sans', sans-serif;font-size:11.34px;line-height:11.34px;font-weight:bold;color:#1e1e1e;white-space:nowrap;transform-origin:0 0;transform:scaleX(0.9814);">Ocupación</div>
<div style="position:absolute;left:330.7px;top:379.5px;width:14.3px;height:14.4px;border-radius:2.5px;background:#ab834e;"></div>
<div style="position:absolute;left:351.00px;top:382.60px;font-family:'Liberation Sans', sans-serif;font-size:11.34px;line-height:11.34px;font-weight:bold;color:#1e1e1e;white-space:nowrap;transform-origin:0 0;transform:scaleX(1.0616);">%</div>
<div style="position:absolute;left:365.60px;top:382.60px;font-family:'Liberation Sans', sans-serif;font-size:11.34px;line-height:11.34px;font-weight:bold;color:#1e1e1e;white-space:nowrap;transform-origin:0 0;transform:scaleX(0.9897);">Disponibilidad</div>
<div style="position:absolute;left:158.90px;top:410.68px;font-family:'Liberation Sans', sans-serif;font-size:8.28px;line-height:8.28px;font-weight:normal;color:#9c9180;white-space:nowrap;transform-origin:0 0;transform:scaleX(0.9870);">FUENTE: RED IRAG, acumulado del 11 agosto, 2020. -</div>
<div style="position:absolute;left:365.70px;top:410.68px;font-family:'Liberation Sans', sans-serif;font-size:8.28px;line-height:8.28px;font-weight:normal;color:#9c9180;white-space:nowrap;transform-origin:0 0;transform:scaleX(0.9633);">SSA/SPPS/DGTI/SERVICIOS DE SALUD ESTATALES</div>
<svg width="842" height="457" viewBox="0 0 842 457" style="position:absolute;left:0;top:0">
<rect x="81" y="351.5" width="1.2" height="10" fill="#8a5a48"/>
<path d="M79.8,372 L80.6,358 L82.6,358 L83.6,372 Z" fill="#b89278"/>
<g fill="#6e3428">
<path d="M64.6,375 L65.2,368 C65.6,365.5 67.5,364.8 70,364.8 C72.5,364.8 74.5,365.5 75,367.5 C75.5,365 77,364.5 79,364.8 L80,368 L84,368 C85,365 87,364.5 89,364.8 C91,365 92,366 92.5,367.5 C93,365.5 95,364.8 97,365 C99,365.2 100,366 100.5,367 C102,366 104,366.5 104.6,368.5 L105.2,375 Z"/>
<ellipse cx="70" cy="361" rx="3" ry="3"/>
<ellipse cx="76.5" cy="360.4" rx="3" ry="3"/>
<ellipse cx="88.5" cy="360" rx="3.1" ry="3.1"/>
<ellipse cx="95" cy="361.2" rx="3" ry="3"/>
<ellipse cx="101" cy="362" rx="2.8" ry="2.9"/>
</g>
<g fill="#c89a80">
<ellipse cx="70" cy="363" rx="2.3" ry="2.5"/>
<ellipse cx="76.5" cy="362.4" rx="2.3" ry="2.5"/>
<ellipse cx="88.5" cy="362.2" rx="2.4" ry="2.6"/>
<ellipse cx="95" cy="363.2" rx="2.3" ry="2.5"/>
<ellipse cx="101" cy="363.9" rx="2.2" ry="2.4"/>
</g>
<g fill="#c9a488" opacity="0.8">
<rect x="69" y="367" width="2" height="7"/>
<rect x="75.5" y="367" width="2" height="7"/>
<rect x="87.5" y="367" width="2" height="7"/>
<rect x="94" y="367.5" width="2" height="6.5"/>
<rect x="100" y="368" width="2" height="6"/>
</g>
<g fill="#ebe4da">
<rect x="66" y="382" width="38" height="2.4"/>
<rect x="66" y="389" width="38" height="2.4"/>
</g>
<circle cx="84.5" cy="408.5" r="10" fill="#ece4d6"/>
<circle cx="84.5" cy="408.5" r="9" fill="none" stroke="#d8c9ae" stroke-width="1.6" stroke-dasharray="1 0.7"/>
<circle cx="84.5" cy="408.5" r="6" fill="#e3d7c2"/>
<path d="M80,407 C82,404 87,404 89,407 C88,411 82,412 80,409 Z" fill="#d3c2a4"/>
</svg>

<div style="position:absolute;left:11px;top:421px;width:823px;height:15px;background:#d9bf92;"></div>
<svg width="842" height="457" viewBox="0 0 842 457" style="position:absolute;left:0;top:0">
<circle cx="711.2" cy="17" r="14" fill="#f1ebe1"/>
<circle cx="711.2" cy="17" r="12.6" fill="none" stroke="#cdbfa6" stroke-width="2.2" stroke-dasharray="1.2 0.8" opacity="0.9"/>
<circle cx="711.2" cy="17" r="10.6" fill="#f0e9dd" stroke="#d6c9b2" stroke-width="0.6"/>
<path d="M704,14 C707,10 713,9 716,12 C719,14 718,18 716,20 C713,22 709,23 706,21 C704,19 703,16 704,14 Z" fill="#e2d6c0"/>
<path d="M708,12 C711,13 714,16 715,19 M705,20 C709,22 714,23 718,21" stroke="#bfae90" stroke-width="0.9" fill="none"/>
<path d="M703,24 C707,27 715,27 719,24" stroke="#c8b89c" stroke-width="1.2" fill="none"/>
</svg>

<div style="position:absolute;left:731.60px;top:4.80px;font-family:'Liberation Serif', serif;font-size:18.63px;line-height:18.63px;font-weight:normal;color:#6a2a3c;white-space:nowrap;transform-origin:0 0;transform:scaleX(0.9952);-webkit-text-stroke:0.45px #6a2a3c;">SALUD</div>
<div style="position:absolute;left:731.60px;top:25.16px;font-family:'Liberation Sans',sans-serif;font-size:4.65px;line-height:4.65px;letter-spacing:-0.082px;color:#a8979a;white-space:nowrap;-webkit-text-stroke:0.15px #a8979a;">SECRETARÍA DE SALUD</div>
<div style="position:absolute;left:698px;top:52px;width:96.5px;height:67px;background:#fd8812;"></div>
<div style="position:absolute;left:713.80px;top:75.90px;font-family:'Liberation Sans', sans-serif;font-size:21.37px;line-height:21.37px;font-weight:bold;color:#fff3df;white-space:nowrap;transform-origin:0 0;transform:scaleX(0.9727);-webkit-text-stroke:0.5px #fff3df;">Fase 3</div>
<div style="position:absolute;left:715.60px;top:134.84px;font-family:'Liberation Sans', sans-serif;font-size:11.05px;line-height:11.05px;font-weight:bold;color:#6e2c4a;white-space:nowrap;transform-origin:0 0;transform:scaleX(0.9281);">12</div>
<div style="position:absolute;left:731.00px;top:134.84px;font-family:'Liberation Sans', sans-serif;font-size:11.05px;line-height:11.05px;font-weight:bold;color:#6e2c4a;white-space:nowrap;transform-origin:0 0;transform:scaleX(1.1609);">agosto,</div>
<div style="position:absolute;left:731.40px;top:146.14px;font-family:'Liberation Sans', sans-serif;font-size:11.05px;line-height:11.05px;font-weight:bold;color:#6e2c4a;white-space:nowrap;transform-origin:0 0;transform:scaleX(1.1840);">2020</div>
<div style="position:absolute;left:573.4px;top:92.2px;width:70.3px;height:19.4px;border-radius:3px;background:#383838;"></div>
<div style="position:absolute;left:583.80px;top:94.58px;font-family:'Liberation Sans', sans-serif;font-size:15.84px;line-height:15.84px;font-weight:bold;color:#ffffff;white-space:nowrap;transform-origin:0 0;transform:scaleX(1.0152);-webkit-text-stroke:0.35px #ffffff;">31,450</div>
<div style="position:absolute;left:590.10px;top:118.63px;font-family:'Liberation Sans', sans-serif;font-size:9.88px;line-height:9.88px;font-weight:bold;color:#2e2e2e;white-space:nowrap;transform-origin:0 0;transform:scaleX(1.1489);">totales</div>
<div style="position:absolute;left:574.3px;top:141.2px;width:70.8px;height:19.3px;border-radius:3px;background:#a8834e;"></div>
<div style="position:absolute;left:584.70px;top:143.57px;font-family:'Liberation Sans', sans-serif;font-size:15.26px;line-height:15.26px;font-weight:bold;color:#fdf5e4;white-space:nowrap;transform-origin:0 0;transform:scaleX(1.0389);-webkit-text-stroke:0.35px #fdf5e4;">18,685</div>
<div style="position:absolute;left:579.60px;top:163.88px;font-family:'Liberation Sans', sans-serif;font-size:10.17px;line-height:10.17px;font-weight:bold;color:#958670;white-space:nowrap;transform-origin:0 0;transform:scaleX(1.0738);">disponibles</div>
<div style="position:absolute;left:573.3px;top:190.3px;width:70.3px;height:19px;border-radius:3px;background:#9c2444;"></div>
<div style="position:absolute;left:585.20px;top:193.07px;font-family:'Liberation Sans', sans-serif;font-size:15.26px;line-height:15.26px;font-weight:bold;color:#fbeef0;white-space:nowrap;transform-origin:0 0;transform:scaleX(0.9982);-webkit-text-stroke:0.35px #fbeef0;">12,765</div>
<div style="position:absolute;left:582.50px;top:214.57px;font-family:'Liberation Sans', sans-serif;font-size:9.59px;line-height:9.59px;font-weight:bold;color:#744456;white-space:nowrap;transform-origin:0 0;transform:scaleX(1.1523);">ocupadas</div>
<div style="position:absolute;left:595.40px;top:227.20px;font-family:'Liberation Sans', sans-serif;font-size:9.45px;line-height:9.45px;font-weight:bold;color:#6e4050;white-space:nowrap;transform-origin:0 0;transform:scaleX(1.0394);">(41%)</div>
<div style="position:absolute;left:630.2px;top:228.8px;width:198.5px;height:181px;overflow:hidden;"><svg width="198.5" height="181" viewBox="630.2 228.8 198.5 181">
<defs>
<radialGradient id="vbg" cx="0.5" cy="0.45" r="0.7">
<stop offset="0" stop-color="#9e1426"/>
<stop offset="1" stop-color="#971224"/>
</radialGradient>
<filter id="bl" x="-20%" y="-20%" width="140%" height="140%"><feGaussianBlur stdDeviation="0.8"/></filter>
<filter id="bl2" x="-20%" y="-20%" width="140%" height="140%"><feGaussianBlur stdDeviation="1.6"/></filter>
</defs>
<rect x="630" y="228" width="200" height="183" fill="url(#vbg)"/>
<rect x="630" y="228.8" width="200" height="1" fill="#5a0a18"/>
<g filter="url(#bl)">
<path d="M745,242 C732,242 722,248 718,257 C713,266 713,276 710,285 C707,292 706,299 710,304 C718,308 729,307 735,302 L758,302 C766,307 774,307 777,302 C780,295 779,286 776,278 C774,268 772,256 766,249 C760,244 752,242 745,242 Z" fill="#261a14"/>
<g fill="#261a14">
<circle cx="719" cy="258" r="4"/><circle cx="714" cy="272" r="4"/><circle cx="711" cy="287" r="4.2"/><circle cx="712" cy="300" r="4"/>
<circle cx="767" cy="252" r="4"/><circle cx="772" cy="266" r="4.2"/><circle cx="775" cy="281" r="4.2"/><circle cx="775" cy="296" r="4"/>
<circle cx="732" cy="246" r="4"/><circle cx="755" cy="245" r="4"/>
</g>
<g fill="#5e4532">
<circle cx="711" cy="295" r="2.2"/><circle cx="716" cy="302" r="2"/><circle cx="774" cy="290" r="2"/><circle cx="772" cy="301" r="2.2"/><circle cx="766" cy="298" r="1.6"/>
</g>
<path d="M733,290 L756,290 L758,318 L732,318 Z" fill="#c08a70"/>
<path d="M748,292 L757,290 L758,318 L748,318 Z" fill="#a06a55"/>
<path d="M741.5,253 C752,253 758.5,262 758.5,274 C758.5,287 751,297 741,297 C731,297 725,287 725,273 C725,261 731,253 741.5,253 Z" fill="#d9a58c"/>
<path d="M724,266 C726,256 733,250 744,250 C737,253 730,258 727,268 Z" fill="#261a14"/>
<path d="M727,266 L734,265 M742,265 L750,264" stroke="#5a3a30" stroke-width="1" fill="none"/>
<ellipse cx="730.5" cy="269.8" rx="2.4" ry="1.1" fill="#3a2420"/>
<ellipse cx="745.5" cy="269.5" rx="2.4" ry="1.1" fill="#3a2420"/>
<path d="M739,273 L737.5,280 L741.5,280.5" stroke="#b07a66" stroke-width="0.9" fill="none"/>
<ellipse cx="738" cy="287" rx="5.3" ry="2.3" fill="#a9404f"/>
<circle cx="759.5" cy="281" r="1.3" fill="#e8d8c8"/>
</g>
<g filter="url(#bl)">
<path d="M698,384 L771,384 L773,412 L695,412 Z" fill="#1a1d2a"/>
<path d="M701,300 C712,297 724,300 733,304 C737,314 748,319 759,305 C769,307 782,310 787,316 C792,328 796,342 797,353 L793,367 L774,368 L769,392 C746,397 722,394 700,388 L700,338 L668,340 C663,334 663,327 666,322 C676,311 689,303 701,300 Z" fill="#141416"/>
<path d="M733,304 C737,314 748,319 759,305" stroke="#2a2a2e" stroke-width="1.2" fill="none"/>
<path d="M700,387 C722,393 746,396 769,390 L769,396 C746,402 722,399 700,393 Z" fill="#7a5838"/>
</g>
<g filter="url(#bl2)">
<path d="M709,306 C716,300 730,299 741,302 C746,307 746,318 742,326 C732,329 716,329 709,324 Z" fill="#9a5f3e"/>
<path d="M716,306 C722,303 732,303 738,306 C740,312 738,318 734,322 C726,323 719,322 716,318 Z" fill="#b87a52"/>
</g>
<g opacity="0.45">
<rect x="707" y="305" width="38" height="1.3" fill="#e0a878"/>
<rect x="706" y="309" width="40" height="1.3" fill="#c08058"/>
<rect x="706" y="313" width="41" height="1.3" fill="#e0a878"/>
<rect x="706" y="317" width="40" height="1.3" fill="#c08058"/>
<rect x="707" y="321" width="38" height="1.3" fill="#e0a878"/>
</g>
<g filter="url(#bl)">
<path d="M721,352 C730,348 742,345 750,345 C751,350 748,356 744,358 C739,360 735,363 731,369 C728,371 724,369 722,364 C720,360 720,355 721,352 Z" fill="#d4a080"/>
</g>
</svg>
</div>
</body></html>
